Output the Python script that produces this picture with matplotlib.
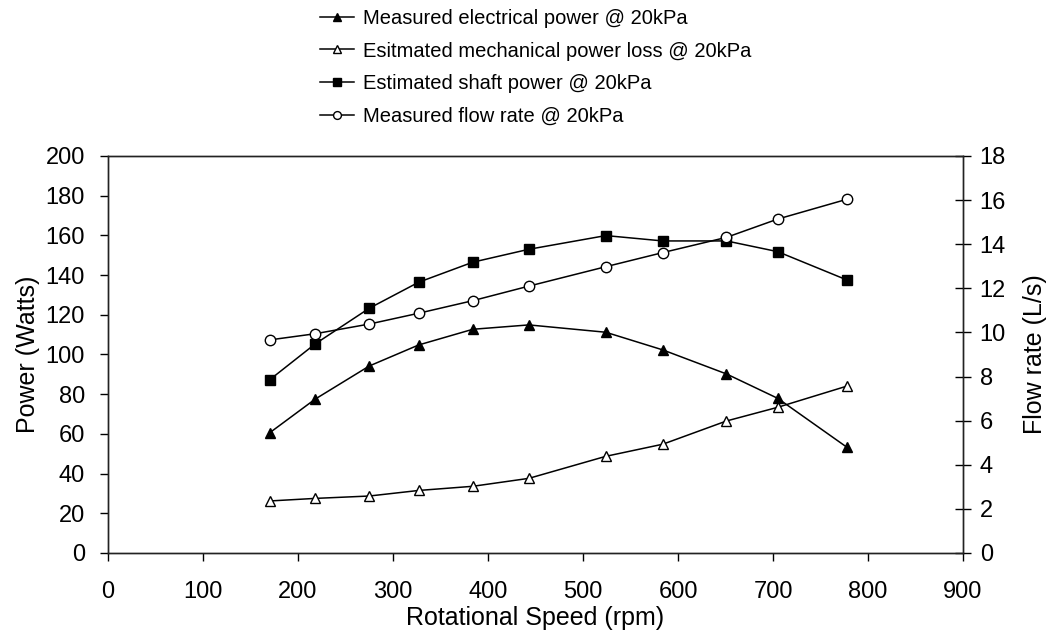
import matplotlib.pyplot as plt

plt.rcParams['font.family'] = ['Liberation Sans', 'DejaVu Sans']

# Datos
rpm = [170, 218, 275, 327, 384, 443, 524, 584, 651, 705, 778]
potencia_eletrica = [60.5, 77.5, 94.2, 104.8, 112.7, 114.9, 111.2, 102.3, 90.2, 77.9, 53.2]
perda_mecanica = [26.2, 27.5, 28.7, 31.5, 33.6, 37.6, 48.7, 54.8, 66.5, 73.4, 84.1]
potencia_eixo = [87.2, 105.3, 123.3, 136.4, 146.5, 153.0, 159.9, 157.2, 157.2, 151.8, 137.5]
vazao = [9.66, 9.94, 10.38, 10.87, 11.44, 12.1, 12.98, 13.62, 14.31, 15.14, 16.04]

rotulos = ['Measured electrical power @ 20kPa',
           'Esitmated mechanical power loss @ 20kPa',
           'Estimated shaft power @ 20kPa',
           'Measured flow rate @ 20kPa']

fig = plt.figure(figsize=(10.52, 6.39), dpi=100)
ax = fig.add_axes([0.1027, 0.1346, 0.8127, 0.6213])
ax2 = ax.twinx()

estilo = dict(color='black', linewidth=1.1, markersize=7.5)
l1, = ax.plot(rpm, potencia_eletrica, marker='^', markerfacecolor='black', **estilo)
l2, = ax.plot(rpm, perda_mecanica, marker='^', markerfacecolor='white', **estilo)
l3, = ax.plot(rpm, potencia_eixo, marker='s', markerfacecolor='black', **estilo)
l4, = ax2.plot(rpm, vazao, marker='o', markerfacecolor='white', **estilo)

ax.set_xlim(0, 900)
ax.set_ylim(0, 200)
ax2.set_ylim(0, 18)
ax.set_xticks(range(0, 901, 100))
ax.set_yticks(range(0, 201, 20))
ax2.set_yticks(range(0, 19, 2))

ax.tick_params(axis='both', direction='out', length=5.5, width=1, labelsize=17)
ax.tick_params(axis='x', pad=15)
ax.tick_params(axis='y', pad=11)
ax2.tick_params(axis='y', direction='inout', length=12, width=1, labelsize=17, pad=6)

for a in (ax, ax2):
    for s in a.spines.values():
        s.set_linewidth(1.0)
        s.set_color('#222222')

ax.set_xlabel('Rotational Speed (rpm)', fontsize=18, labelpad=1.5)
ax.set_ylabel('Power (Watts)', fontsize=18, labelpad=4)
ax2.set_ylabel('Flow rate (L/s)', fontsize=18, labelpad=12)

fig.legend([l1, l2, l3, l4], rotulos, loc='upper left',
           bbox_to_anchor=(0.304, 0.986), frameon=False, fontsize=14.5,
           markerscale=0.75, handlelength=1.7, handletextpad=0.45,
           labelspacing=0.675, borderpad=0, borderaxespad=0)

fig.savefig('out.png', dpi=100)
